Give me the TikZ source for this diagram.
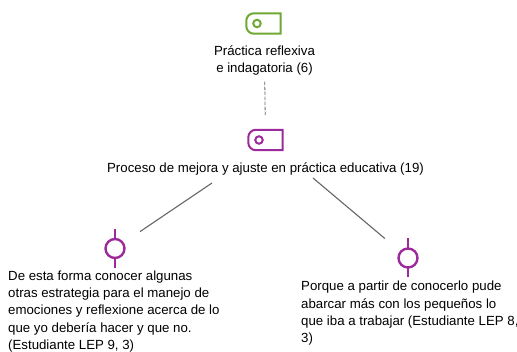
\documentclass[tikz,border=0pt]{standalone}
\usepackage{fontspec}
\setmainfont{Liberation Sans}

\definecolor{codegreen}{HTML}{6FA832}
\definecolor{codepurple}{HTML}{9B2A9B}
\definecolor{linkgray}{HTML}{666666}

\newcommand{\tagoutline}[2]{
  \draw[draw=#2,line width=2pt,line join=miter] (#1.north east) [sharp corners] -- (#1.south east)
    [rounded corners=7.5pt] -- (#1.south west) -- (#1.north west) [sharp corners] -- cycle;
}

\tikzset{
  txt/.style={inner sep=0pt,font=\fontsize{13.25}{17.25}\selectfont},
  tagbox/.style={inner sep=0pt,minimum width=34pt,minimum height=20pt},
  taghole/.style={circle,draw=#1,line width=2pt,minimum size=7.5pt,inner sep=0pt},
  stem/.style={fill=codepurple,inner sep=0pt,minimum width=2.4pt,minimum height=39pt},
  quotedot/.style={circle,draw=codepurple,fill=white,line width=2.4pt,minimum size=19pt,inner sep=0pt},
  link/.style={draw=linkgray,line width=1.1pt}
}

\begin{document}
\begin{tikzpicture}[x=1pt,y=-1pt]
      \useasboundingbox (0,0) rectangle (517,352);

      \node [tagbox] (1) at (263.5,23.5) {};
      \tagoutline{1}{codegreen}
      \node [taghole=codegreen] (1h) at (257,23.5) {};
      \node [txt,align=center] (2) at (264.5,60.5) {Práctica reflexiva\\e indagatoria (6)};

      \node [tagbox] (3) at (265.5,140) {};
      \tagoutline{3}{codepurple}
      \node [taghole=codepurple] (3h) at (259,140) {};
      \node [txt] (4) at (265.5,169) {Proceso de mejora y ajuste en práctica educativa (19)};

      \node [stem] (5s) at (115,248.5) {};
      \node [quotedot] (5) at (5s) {};
      \node [stem] (6s) at (408,258) {};
      \node [quotedot] (6) at (6s) {};

      \node [txt,align=left,anchor=north west] (7) at (8,270.5) {De esta forma conocer algunas\\otras estrategia para el manejo de\\emociones y reflexione acerca de lo\\que yo debería hacer y que no.\\(Estudiante LEP 9, 3)};
      \node [txt,align=left,anchor=north west] (8) at (301,281) {Porque a partir de conocerlo pude\\abarcar más con los pequeños lo\\que iba a trabajar (Estudiante LEP 8,\\3)};

      \coordinate (4l) at (212,183);
      \coordinate (4r) at (313,178);

      \draw[link,dash pattern=on 3.5pt off 1.5pt,line width=.8pt,shorten <=6pt,shorten >=14pt] (2) -- (3);
      \draw[link,shorten >=19.5pt] (4l) -- (5);
      \draw[link,shorten >=19.5pt] (4r) -- (6);
    \end{tikzpicture}
\end{document}
